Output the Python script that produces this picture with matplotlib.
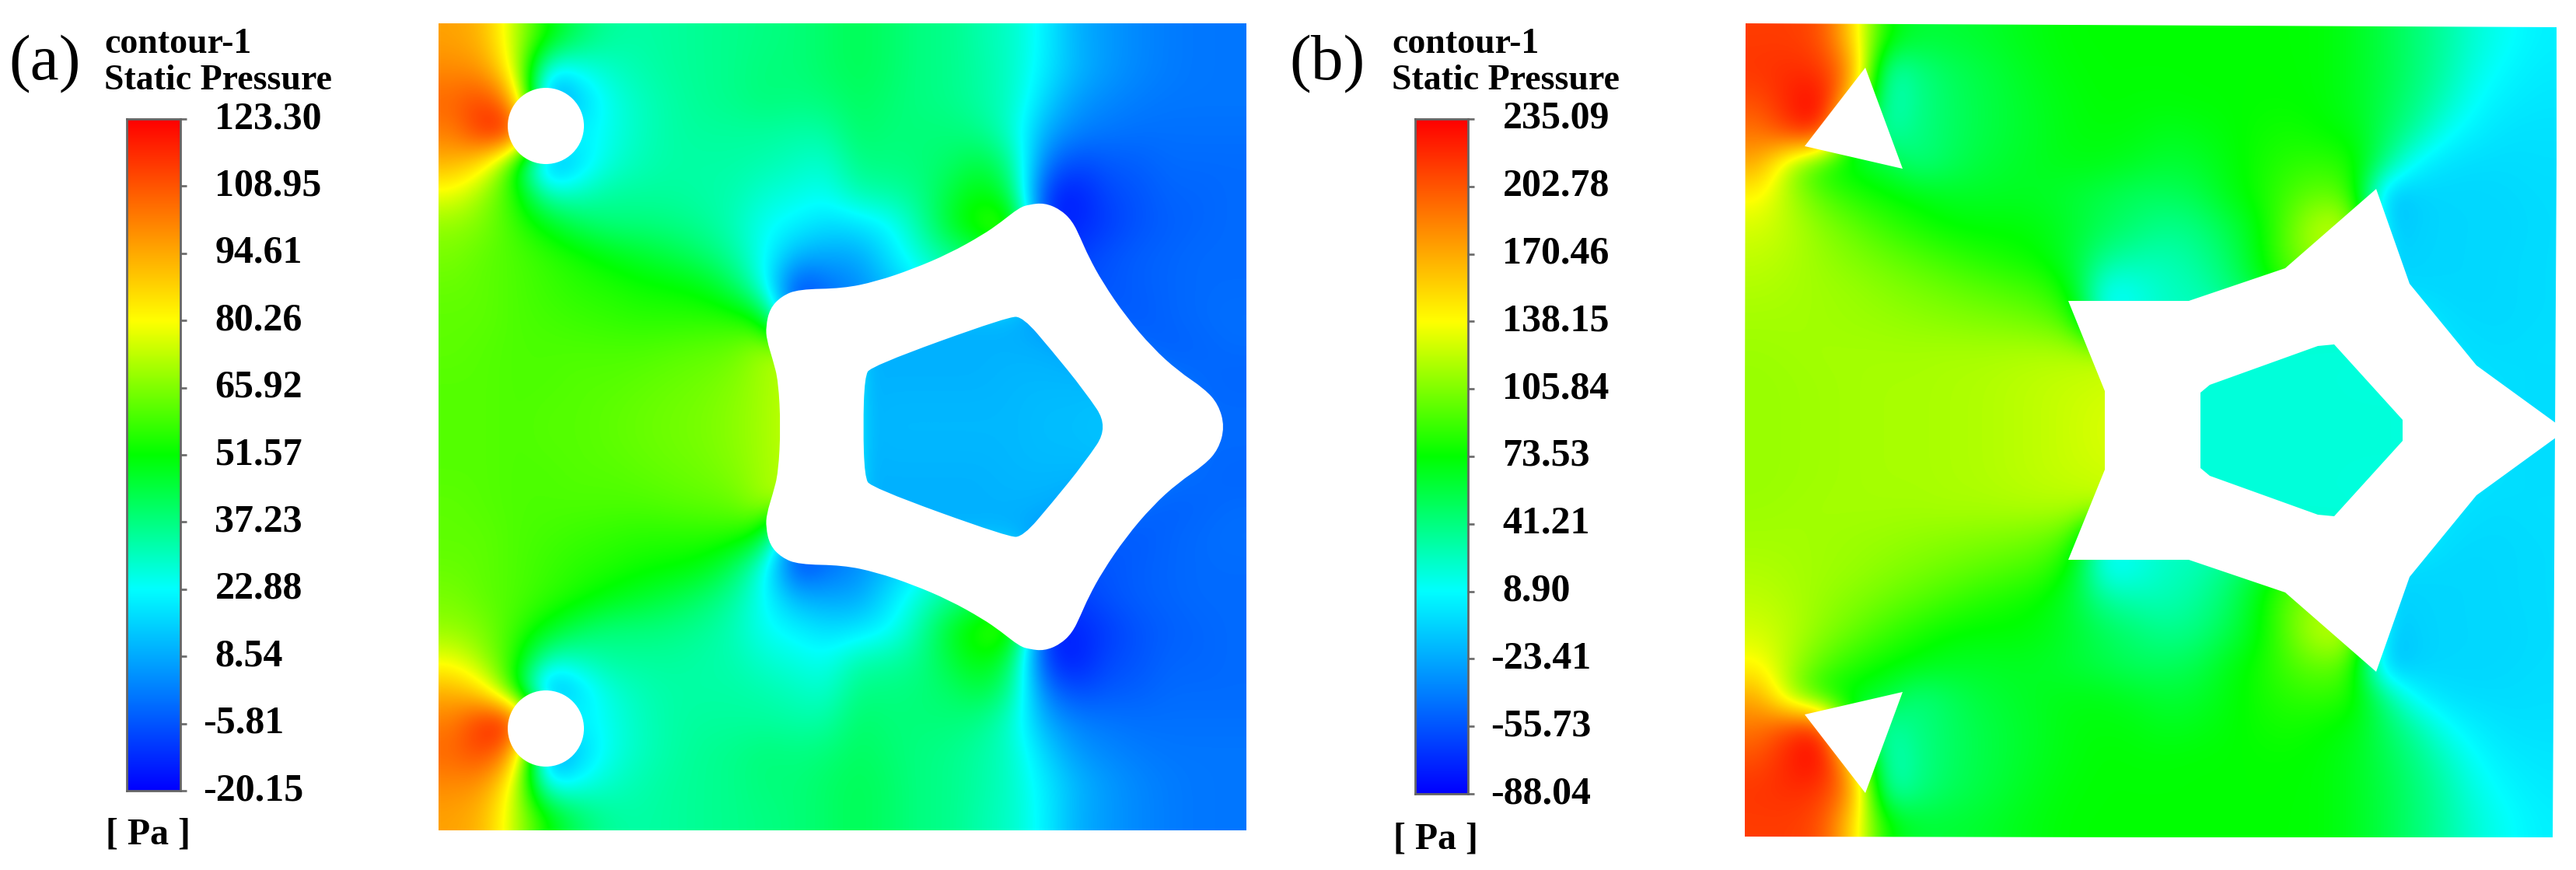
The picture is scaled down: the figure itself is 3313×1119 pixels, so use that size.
import numpy as np
import matplotlib
matplotlib.use('Agg')
import matplotlib.pyplot as plt
from matplotlib.colors import LinearSegmentedColormap
from matplotlib.patches import Circle, PathPatch, Polygon
from matplotlib.path import Path
from matplotlib.transforms import ScaledTranslation

plt.rcParams['font.family'] = ['Liberation Serif', 'DejaVu Serif']

W, H = 3313, 1119

# pressure (Pa), upper half of each panel, mirrored below
a_left = [
    [96, 92, 72, 52, 40, 34, 33, 34, 35, 36, 37, 38, 40],
    [100, 98, 76, 20, 24, 29, 32, 34, 35, 36, 38, 38, 40],
    [106, 113, 95, -2, 14, 25, 30, 33, 35, 36, 38, 37, 38],
    [102, 118, 120, 40, 20, 25, 30, 33, 34, 34, 34, 33, 33],
    [93, 84, 52, 3, 17, 27, 31, 33, 33, 33, 32, 30, 28],
    [78, 68, 55, 30, 30, 34, 34, 34, 33, 32, 28, 26, 24],
    [68, 65, 58, 50, 42, 38, 38, 37, 35, 31, 24, 21, 17],
    [65, 62, 60, 57, 54, 50, 47, 44, 40, 34, 23, 10, 8],
    [63, 62, 60, 58, 56, 55, 53, 52, 50, 42, 25, -10, -1],
    [62, 62, 60, 59, 58, 57, 56, 56, 56, 56, 50, -8, -2],
    [62, 61, 60, 60, 60, 60, 60, 61, 62, 63, 70, 72, 72],
    [61, 61, 60, 60, 61, 61, 62, 63, 64, 66, 70, 73, 74],
    [61, 61, 60, 61, 61, 62, 63, 64, 65, 67, 70, 74, 76],
]
a_right = [
    [42, 40, 37, 36, 32, 29, 21, 10, 6, 3, 1, 0, 0],
    [42, 40, 37, 36, 33, 29, 20, 11, 6, 3, 1, 0, 0],
    [41, 39, 37, 36, 33, 29, 16, 6, 3, 1, 0, 0, 0],
    [40, 38, 38, 38, 36, 28, 9, 2, 0, -1, -1, -1, -1],
    [37, 37, 38, 40, 45, 35, 0, -8, -5, -4, -2, -2, -2],
    [32, 33, 36, 45, 52, 42, -12, -16, -8, -6, -3, -3, -2],
    [18, 22, 33, 48, 58, 60, -15, -14, -10, -6, -4, -3, -2],
    [8, 18, 28, 35, 40, 50, -10, -10, -6, -4, -3, -2, -2],
    [3, 12, 20, 30, 35, 30, 0, -6, -6, -4, -3, -2, -2],
    [5, 8, 10, 10, 10, 10, 5, -2, -4, -5, -3, -2, -1],
    [10, 10, 10, 10, 10, 10, 10, 8, 2, -2, -4, -3, -2],
    [10, 10, 10, 10, 10, 11, 11, 11, 11, 5, 0, -2, -3],
    [10, 11, 11, 11, 11, 11, 12, 12, 13, 13, 0, -2, -2],
]
b_left = [
    [212, 212, 205, 150, 75, 60, 60, 62, 66, 70, 73, 73, 73],
    [215, 218, 215, 180, 25, 40, 50, 56, 62, 68, 72, 73, 73],
    [205, 225, 235, 150, 20, 38, 48, 55, 60, 66, 70, 73, 72],
    [190, 215, 225, 60, 30, 40, 48, 55, 60, 65, 70, 71, 70],
    [170, 110, 75, 68, 60, 42, 50, 58, 62, 66, 68, 68, 64],
    [140, 115, 95, 82, 75, 70, 65, 64, 65, 64, 60, 55, 50],
    [128, 120, 108, 98, 88, 80, 74, 72, 72, 70, 62, 52, 45],
    [122, 118, 112, 106, 100, 94, 88, 82, 78, 73, 60, 38, 30],
    [118, 116, 114, 112, 108, 104, 100, 96, 92, 88, 70, 8, 14],
    [115, 115, 114, 113, 112, 110, 108, 106, 104, 100, 90, 8, 14],
    [113, 114, 115, 115, 115, 115, 116, 116, 117, 118, 118, 120, 122],
    [112, 113, 114, 115, 116, 116, 117, 118, 120, 122, 124, 125, 128],
    [112, 113, 114, 115, 116, 116, 117, 118, 120, 122, 125, 128, 130],
]
b_right = [
    [73, 73, 73, 73, 73, 72, 66, 56, 44, 32, 18, 10, 4],
    [73, 73, 73, 74, 73, 72, 66, 56, 44, 30, 14, 6, 2],
    [72, 73, 73, 74, 74, 72, 66, 54, 40, 24, 8, 2, 0],
    [66, 68, 72, 76, 78, 74, 70, 50, 32, 10, 2, -2, -2],
    [60, 62, 70, 78, 84, 86, 80, 40, 4, -3, -4, -4, -3],
    [50, 54, 68, 78, 92, 100, 90, -20, -8, -6, -6, -5, -4],
    [38, 42, 55, 72, 100, 125, 120, -14, -8, -6, -6, -6, -4],
    [28, 35, 48, 72, 100, 118, 100, -8, -7, -6, -6, -5, -4],
    [24, 28, 42, 62, 88, 75, 50, -5, -6, -6, -6, -5, -4],
    [24, 24, 24, 24, 24, 22, 22, 18, 5, -4, -5, -5, -4],
    [18, 18, 18, 18, 18, 18, 18, 14, 8, 0, -4, -4, -3],
    [18, 18, 18, 18, 18, 18, 18, 18, 18, 5, -1, -3, -4],
    [18, 18, 18, 18, 18, 18, 18, 18, 18, 8, 0, -3, -4],
]

ticks_a = [123.30, 108.95, 94.61, 80.26, 65.92, 51.57, 37.23, 22.88, 8.54, -5.81, -20.15]
ticks_b = [235.09, 202.78, 170.46, 138.15, 105.84, 73.53, 41.21, 8.90, -23.41, -55.73, -88.04]

# solid outlines in image pixels, upper half only
outer_a = [(1004, 549), (1001, 490), (994, 463), (986, 437), (985, 420), (990, 397), (1005, 381),
           (1027, 372), (1084, 371), (1127, 362), (1174, 346), (1221, 326), (1264, 302), (1287, 286),
           (1311, 267), (1324, 263), (1343, 261), (1363, 269), (1379, 284), (1390, 307), (1400, 330),
           (1418, 363), (1448, 407), (1482, 447), (1515, 477), (1549, 500), (1567, 520), (1575, 549)]
inner_a = [(1110, 549), (1112, 485), (1120, 471), (1297, 407), (1316, 408), (1352, 450), (1395, 503), (1426, 549)]
outer_b = [(2707, 553), (2707, 503), (2660, 387), (2764, 387), (2815, 387), (2939, 345), (3056, 243),
           (3099, 365), (3185, 470), (3291, 547), (3300, 553)]
inner_b = [(2830, 553), (2830, 505), (2842, 495), (2981, 445), (3002, 443), (3090, 540), (3090, 553)]
triangle_b = [(2399, 87), (2321, 188), (2447, 217)]

rainbow = LinearSegmentedColormap.from_list('rainbow_cfd', [
    (0.0, (0, 0, 1)), (0.3, (0, 1, 1)), (0.5, (0, 1, 0)), (0.7, (1, 1, 0)), (1.0, (1, 0, 0))], N=512)


def add_axes_px(fig, x0, y0, x1, y1):
    return fig.add_axes([x0 / W, 1 - y1 / H, (x1 - x0) / W, (y1 - y0) / H])


def closed_outline(half, ymid):
    # half outline plus its mirror image, without repeating the first point
    return list(half) + [(x, 2 * ymid - y) for x, y in reversed(half[1:-1])]


def straight_part(pts):
    return list(pts) + [pts[0]], [Path.MOVETO] + [Path.LINETO] * (len(pts) - 1) + [Path.CLOSEPOLY]


def rounded_part(pts):
    # quadratic segments through edge midpoints, keeps the rounded corners of panel (a)
    pts = np.array(pts, dtype=float)
    mids = (pts + np.roll(pts, -1, axis=0)) / 2
    verts = [tuple(mids[-1])]
    codes = [Path.MOVETO]
    for p, m in zip(pts, mids):
        verts += [tuple(p), tuple(m)]
        codes += [Path.CURVE3, Path.CURVE3]
    return verts, codes


def ring_path(outer, inner, ymid, part):
    v1, c1 = part(closed_outline(outer, ymid))
    v2, c2 = part(closed_outline(inner, ymid)[::-1])
    return Path(v1 + v2, c1 + c2)


def draw_colorbar(fig, box, ticks, sign_shift):
    cax = add_axes_px(fig, *box)
    vmin, vmax = ticks[-1], ticks[0]
    cax.imshow(np.linspace(1, 0, 512).reshape(-1, 1), cmap=rainbow, vmin=0, vmax=1, aspect='auto',
               extent=(0, 1, vmin, vmax))
    cax.set_xticks([])
    cax.yaxis.tick_right()
    cax.set_yticks(ticks)
    cax.set_yticklabels(['%.2f' % t for t in ticks], fontsize=36, fontweight='bold', va='center')
    cax.tick_params(axis='y', length=6, width=2, color='#6e6e6e', pad=26)
    for s in cax.spines.values():
        s.set_color('#666666')
        s.set_linewidth(2)
    for lab, t in zip(cax.get_yticklabels(), ticks):
        if t < 0:
            lab.set_transform(lab.get_transform() + ScaledTranslation(-sign_shift / 100, 0, fig.dpi_scale_trans))
    return cax


fig = plt.figure(figsize=(W / 100, H / 100), dpi=100, facecolor='white')

# panel (a)
field_a = np.hstack([np.array(a_left), np.array(a_right)])
field_a = np.vstack([field_a, field_a[::-1]])
ax = add_axes_px(fig, 564, 30, 1603, 1068)
ax.imshow(field_a, cmap=rainbow, vmin=ticks_a[-1], vmax=ticks_a[0], aspect='auto',
          extent=(564, 1603, 1068, 30), interpolation='bicubic', interpolation_stage='data')
ax.add_patch(PathPatch(ring_path(outer_a, inner_a, 549, rounded_part), fc='white', ec='none'))
ax.add_patch(Circle((702, 162), 49, fc='white', ec='none'))
ax.add_patch(Circle((702, 937), 49, fc='white', ec='none'))
ax.axis('off')

# panel (b), slightly skewed in the source image
field_b = np.hstack([np.array(b_left), np.array(b_right)])
field_b = np.vstack([field_b, field_b[::-1]])
ax = add_axes_px(fig, 2240, 26, 3300, 1082)
im = ax.imshow(field_b, cmap=rainbow, vmin=ticks_b[-1], vmax=ticks_b[0], aspect='auto',
               extent=(2244, 3288, 1077, 30), interpolation='bicubic', interpolation_stage='data')
ax.set_xlim(2240, 3300)
ax.set_ylim(1082, 26)
im.set_clip_path(Polygon([(2245, 30), (3289, 35), (3283, 1078), (2243, 1076)], transform=ax.transData))
ax.add_patch(PathPatch(ring_path(outer_b, inner_b, 553.5, straight_part), fc='white', ec='none'))
ax.add_patch(Polygon(triangle_b, fc='white', ec='none'))
ax.add_patch(Polygon([(x, 1107 - y) for x, y in triangle_b], fc='white', ec='none'))
ax.axis('off')

# colour scales
draw_colorbar(fig, (163, 153, 232, 1017), ticks_a, 15)
draw_colorbar(fig, (1820, 153, 1888, 1021), ticks_b, 15)

# labels, placed in figure pixels
for x, tag in [(11, '(a)'), (1658, '(b)')]:
    fig.text(x / W, 1 - 102 / H, tag, fontsize=60, color='black')
for x, yb in [(134, 1086), (1790, 1091)]:
    fig.text(x / W, 1 - 68 / H, 'contour-1', fontsize=33, fontweight='bold')
    fig.text(x / W, 1 - 115 / H, 'Static Pressure', fontsize=33, fontweight='bold')
    fig.text((x + 2) / W, 1 - yb / H, '[ Pa ]', fontsize=34.5, fontweight='bold')

fig.savefig('out.png', dpi=100)
